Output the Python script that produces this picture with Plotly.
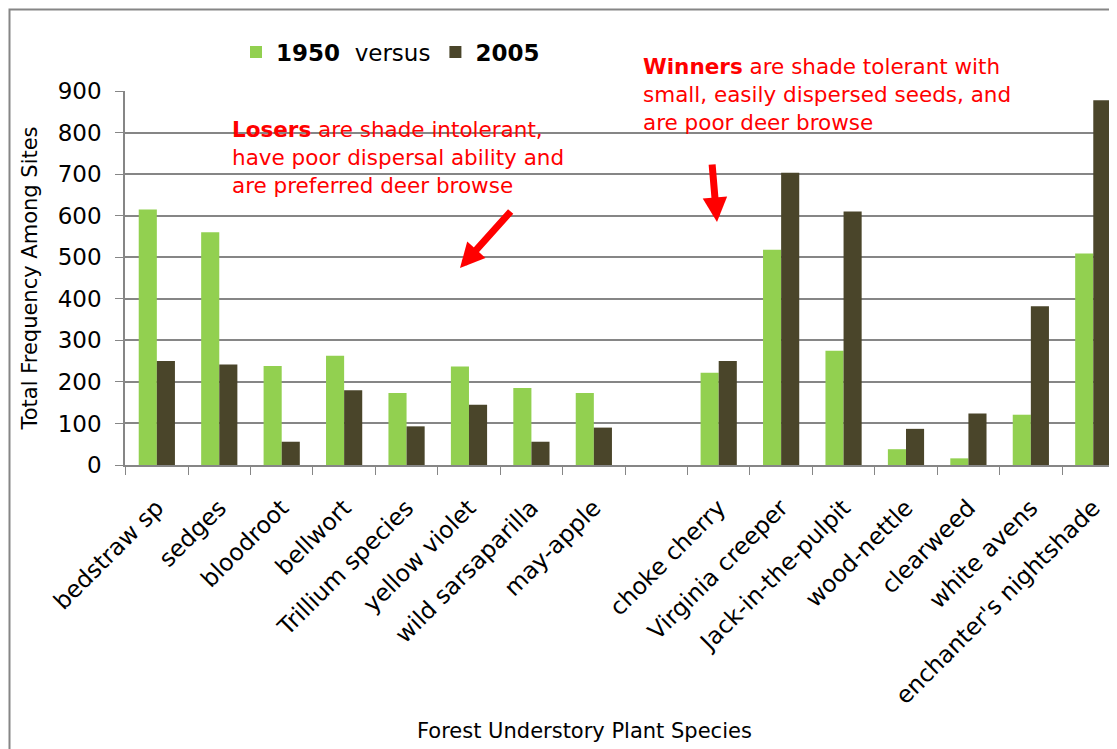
import plotly.graph_objects as go

# species (blank slot separates losers from winners)
species = ['bedstraw sp', 'sedges', 'bloodroot', 'bellwort', 'Trillium species',
           'yellow violet', 'wild sarsaparilla', 'may-apple', ' ',
           'choke cherry', 'Virginia creeper', 'Jack-in-the-pulpit', 'wood-nettle',
           'clearweed', 'white avens', "enchanter's nightshade"]
freq_1950 = [615, 560, 238, 263, 173, 237, 185, 173, None,
             222, 518, 275, 38, 16, 121, 509]
freq_2005 = [250, 242, 56, 180, 93, 145, 56, 90, None,
             250, 703, 610, 87, 124, 382, 878]

GREEN = '#92D050'
OLIVE = '#4A452A'
GRAY = '#868686'
RED = '#FF0000'
FONT = 'DejaVu Sans'

fig = go.Figure()
fig.add_trace(go.Bar(x=species, y=freq_1950, name='<b>1950</b>&nbsp;&nbsp;versus',
                     marker_color=GREEN, marker_line_width=0))
fig.add_trace(go.Bar(x=species, y=freq_2005, name='<b>2005</b>',
                     marker_color=OLIVE, marker_line_width=0))

# plot area in window pixels: x 125..1117, y 91..465 (page has an 8px body margin)
def px(x):
    return (x - 125) / 992

def py(y):
    return (465 - y) / 374

shapes = [
    # white backing of the two text boxes (hides gridlines)
    dict(type='rect', xref='paper', yref='paper', layer='between',
         x0=px(214), x1=px(593), y0=py(200), y1=py(100),
         fillcolor='white', line_width=0),
    dict(type='rect', xref='paper', yref='paper', layer='between',
         x0=px(623), x1=px(1054), y0=py(125), y1=py(45),
         fillcolor='white', line_width=0),
    # chart border
    dict(type='rect', xref='paper', yref='paper', layer='above',
         x0=px(9.5), x1=px(1140), y0=py(800), y1=py(9.5),
         fillcolor='rgba(0,0,0,0)', line=dict(color=GRAY, width=2)),
]

annotations = [
    dict(xref='paper', yref='paper', x=px(230), y=py(115), xanchor='left', yanchor='top',
         align='left', showarrow=False,
         text='<b>Losers</b> are shade intolerant,<br>have poor dispersal ability and<br>'
              'are preferred deer browse',
         font=dict(family=FONT, size=21.5, color=RED)),
    dict(xref='paper', yref='paper', x=px(641), y=py(52), xanchor='left', yanchor='top',
         align='left', showarrow=False,
         text='<b>Winners</b> are shade tolerant with<br>small, easily dispersed seeds, and<br>'
              'are poor deer browse',
         font=dict(family=FONT, size=21.5, color=RED)),
    dict(xref='paper', yref='paper', x=px(460), y=py(268), ax=52, ay=-58,
         text='', showarrow=True, arrowhead=2, arrowsize=0.7, arrowwidth=7,
         arrowcolor=RED),
    dict(xref='paper', yref='paper', x=px(717), y=py(222), ax=-5, ay=-59,
         text='', showarrow=True, arrowhead=2, arrowsize=0.7, arrowwidth=7,
         arrowcolor=RED),
    dict(xref='paper', yref='paper', x=px(584), y=py(731), xanchor='center',
         yanchor='middle', showarrow=False, text='Forest Understory Plant Species',
         font=dict(family=FONT, size=21, color='black')),
]

fig.update_layout(
    width=1109, height=741,
    margin=dict(l=117, r=0, t=83, b=284),
    plot_bgcolor='white', paper_bgcolor='white',
    font=dict(family=FONT, color='black'),
    barmode='group', bargap=0.42, bargroupgap=0,
    showlegend=True,
    legend=dict(orientation='h', x=px(236), y=py(52), xanchor='left', yanchor='middle',
                font=dict(family=FONT, size=23, color='black'),
                bgcolor='rgba(0,0,0,0)', itemwidth=30, traceorder='normal'),
    shapes=shapes,
    annotations=annotations,
)
fig.update_xaxes(range=[-0.51, 15.38], showline=True, linecolor=GRAY, linewidth=1.5,
                 ticks='outside', tickson='boundaries', ticklen=8, tickcolor=GRAY,
                 tickangle=-45, ticklabelstandoff=18,
                 tickfont=dict(family=FONT, size=23.5, color='black'),
                 showgrid=False)
fig.update_yaxes(range=[0, 900], dtick=100, showline=True, linecolor=GRAY, linewidth=1.5,
                 ticks='outside', ticklen=8, tickcolor=GRAY, gridcolor=GRAY, gridwidth=1.5,
                 zeroline=False, ticklabelstandoff=9,
                 tickfont=dict(family=FONT, size=23, color='black'),
                 title=dict(text='Total Frequency Among Sites', standoff=14,
                            font=dict(family=FONT, size=21, color='black')))

fig.write_html("out.html")
